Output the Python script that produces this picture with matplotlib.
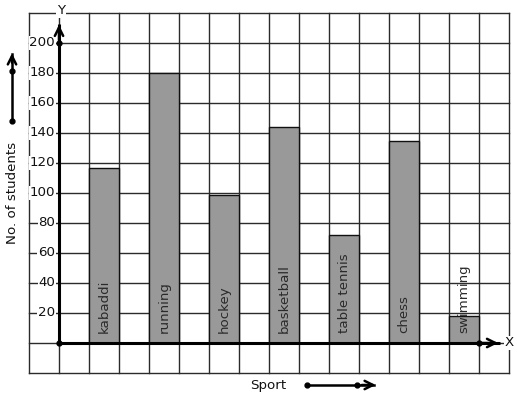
import matplotlib
matplotlib.use("Agg")
import matplotlib.pyplot as plt

sports = ["kabaddi", "running", "hockey", "basketball", "table tennis", "chess", "swimming"]
students = [117, 180, 99, 144, 72, 135, 18]
yticks = [20, 40, 60, 80, 100, 120, 140, 160, 180, 200]

W, H = 517, 399
fig = plt.figure(figsize=(W / 100, H / 100), dpi=100)
ax = fig.add_axes([0, 0, 1, 1])
# pixel mapping: x grid unit 30px (x=0 at px 59), y 1.5px per unit (y=0 at px 343)
x0 = -1 - 29 / 30
x1 = -1 + (W - 29) / 30
y1 = 343 / 1.5
y0 = -(H - 343) / 1.5
ax.set_xlim(x0, x1)
ax.set_ylim(y0, y1)
ax.axis("off")

FS = 9.6
gc = "#2b2b2b"
for i in range(-1, 16):
    ax.plot([i, i], [-20, 220], color=gc, lw=1.0, zorder=1)
for v in range(-20, 221, 20):
    ax.plot([-1, 15], [v, v], color=gc, lw=1.0, zorder=1)

xs = [1.5 + 2 * i for i in range(len(sports))]
ax.bar(xs, students, width=1.0, bottom=0, color="#999999", edgecolor="#111111",
       linewidth=1.0, zorder=2)

for x, name in zip(xs, sports):
    ax.text(x, 6.5, name, rotation=90, ha="center", va="bottom", fontsize=FS,
            color="#2a2a2a", zorder=5)

for v in yticks:
    ax.text(-0.13, v, str(v), ha="right", va="center", fontsize=FS, color="#111111",
            zorder=4, bbox=dict(boxstyle="square,pad=0.05", fc="white", ec="none"))

# axes
ax.plot([0, 0], [0, 213], color="black", lw=2.2, zorder=6, solid_capstyle="butt")
ax.plot([0, 14.7], [0, 0], color="black", lw=2.2, zorder=6, solid_capstyle="butt")
ax.annotate("", xy=(0, 214), xytext=(0, 200),
            arrowprops=dict(arrowstyle="->,head_length=0.6,head_width=0.3", lw=1.8, color="black"),
            zorder=7)
ax.annotate("", xy=(14.73, 0), xytext=(14.0, 0),
            arrowprops=dict(arrowstyle="->,head_length=0.6,head_width=0.3", lw=1.8, color="black"),
            zorder=7)
ax.plot([0, 0, 14], [0, 200, 0], "o", color="black", ms=3.5, zorder=8)

ax.text(15.0, 0, "X", ha="center", va="center", fontsize=FS, color="#111111", zorder=8,
        bbox=dict(boxstyle="square,pad=0.05", fc="white", ec="none"))
ax.text(0.07, 221.5, "Y", ha="center", va="center", fontsize=FS, color="#111111", zorder=8,
        bbox=dict(boxstyle="square,pad=0.05", fc="white", ec="none"))

# left decoration arrow and label
lx = -1 - 17 / 30
ax.plot([lx, lx], [148, 193], color="black", lw=1.8, zorder=6)
ax.annotate("", xy=(lx, 195), xytext=(lx, 185),
            arrowprops=dict(arrowstyle="->,head_length=0.6,head_width=0.3", lw=1.8, color="black"))
ax.plot([lx, lx], [148, 181.3], "o", color="black", ms=3.5)
ax.text(lx, 100, "No. of students", rotation=90, ha="center", va="center", fontsize=FS,
        color="#111111")

# bottom decoration
sy = -28
ax.plot([8.27, 10.5], [sy, sy], color="black", lw=1.8)
ax.annotate("", xy=(10.65, sy), xytext=(10.0, sy),
            arrowprops=dict(arrowstyle="->,head_length=0.6,head_width=0.3", lw=1.8, color="black"))
ax.plot([8.27, 9.93], [sy, sy], "o", color="black", ms=3.5)
ax.text(6.97, sy, "Sport", ha="center", va="center", fontsize=FS, color="#111111")

fig.savefig("out.png", dpi=100)
